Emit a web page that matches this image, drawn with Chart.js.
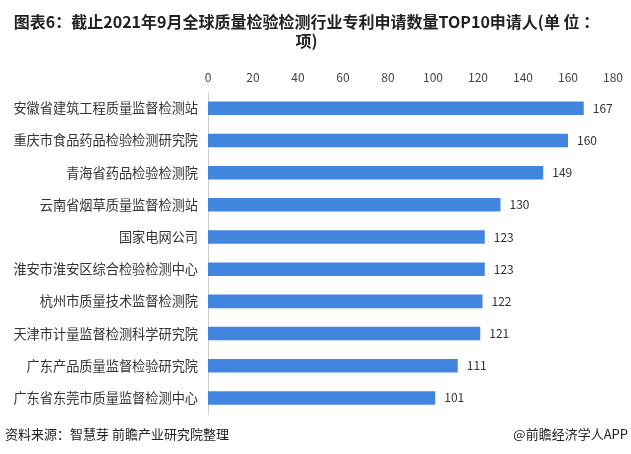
<!DOCTYPE html>
<html><head><meta charset="utf-8">
<script src="https://cdn.jsdelivr.net/npm/chart.js@4.4.0/dist/chart.umd.min.js"></script>
<style>
html,body{margin:0;padding:0;background:#fff;}
#wrap{position:relative;width:631px;height:454px;}
</style></head>
<body><div id="wrap"><canvas id="c" width="631" height="454"></canvas></div>
<script>
const categories = ['安徽省建筑工程质量监督检测站','重庆市食品药品检验检测研究院','青海省药品检验检测院','云南省烟草质量监督检测站','国家电网公司','淮安市淮安区综合检验检测中心','杭州市质量技术监督检测院','天津市计量监督检测科学研究院','广东产品质量监督检验研究院','广东省东莞市质量监督检测中心'];
const values = [167,160,149,130,123,123,122,121,111,101];
const tickValues = [0,20,40,60,80,100,120,140,160,180];
const titleLines = ['图表6：截止2021年9月全球质量检验检测行业专利申请数量TOP10申请人(单 位 ：','项)'];
const sourceText = '资料来源：智慧芽 前瞻产业研究院整理';
const brandText = '@前瞻经济学人APP';

const FONT = '"Noto Sans CJK SC","Liberation Sans",sans-serif';

const extras = {
  id: 'extras',
  afterDatasetsDraw(chart) {
    const ctx = chart.ctx;
    const meta = chart.getDatasetMeta(0);
    ctx.save();
    ctx.font = '12px ' + FONT;
    ctx.fillStyle = '#333';
    ctx.textBaseline = 'middle';
    ctx.textAlign = 'left';
    meta.data.forEach((bar, i) => {
      ctx.fillText(String(values[i]), bar.x + 9, bar.y);
    });
    ctx.font = '13px ' + FONT;
    ctx.fillStyle = '#222';
    ctx.textBaseline = 'middle';
    ctx.fillText(sourceText, 5, 434);
    ctx.textAlign = 'right';
    ctx.fillText(brandText, 628, 434);
    ctx.restore();
  }
};

new Chart(document.getElementById('c'), {
  type: 'bar',
  data: {
    labels: categories,
    datasets: [{
      data: values,
      backgroundColor: '#4285DE',
      barPercentage: 0.42,
      categoryPercentage: 1.0
    }]
  },
  options: {
    indexAxis: 'y',
    responsive: false,
    animation: false,
    layout: { padding: { left: 0, right: 18, top: 0, bottom: 40 } },
    plugins: {
      legend: { display: false },
      tooltip: { enabled: false },
      title: {
        display: true,
        text: titleLines,
        color: '#222',
        font: { family: FONT, size: 16, weight: 'bold', lineHeight: 1.15 },
        padding: { top: 13, bottom: 20 }
      }
    },
    scales: {
      x: {
        position: 'top',
        min: 0, max: 180,
        afterBuildTicks(scale) { scale.ticks = tickValues.map(v => ({ value: v })); },
        grid: { display: false },
        border: { display: false },
        ticks: { color: '#444', font: { family: FONT, size: 12 }, padding: 0, maxRotation: 0 }
      },
      y: {
        grid: { display: false, drawTicks: false },
        border: { display: true, color: '#ccc' },
        ticks: { color: '#333', font: { family: FONT, size: 13.2 }, padding: 10 },
        afterFit(scale) { scale.width = 208; }
      }
    }
  },
  plugins: [extras]
});
</script></body></html>
